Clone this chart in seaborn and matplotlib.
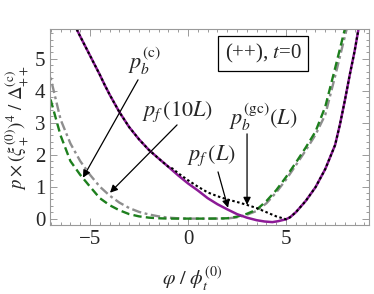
import seaborn as sns
import matplotlib
matplotlib.use("Agg")
from matplotlib import pyplot as plt
from matplotlib.ticker import MultipleLocator

# purple solid curve, p_f(L)
pf_L_x = [-5.9, -5.7, -5.5, -5.0, -4.5, -4.25, -4.0, -3.5, -3.0, -2.5, -2.0, -1.5,
          -1.0, -0.5, 0.0, 0.5, 1.0, 1.5, 2.0, 2.5, 3.0, 3.5, 3.9, 4.3, 4.6,
          5.0, 5.2, 5.5, 6.0, 6.5, 7.0, 7.5, 7.75, 8.0, 8.25, 8.5, 8.7, 8.9]
pf_L_y = [6.2, 5.95, 5.7, 5.1, 4.5, 4.18, 3.88, 3.33, 2.86, 2.48, 2.15, 1.88,
          1.62, 1.35, 1.1, 0.88, 0.64, 0.45, 0.29, 0.14, 0.03, -0.05, -0.09, -0.11, -0.08,
          -0.02, 0.04, 0.2, 0.55, 0.98, 1.55, 2.3, 2.95, 3.7, 4.5, 5.25, 5.95, 6.6]

# black dotted curve, p_b^(gc)(L)
pb_gc_x = [-5.9, -5.7, -5.5, -5.0, -4.5, -4.25, -4.0, -3.5, -3.0, -2.5, -2.0, -1.5,
           -1.0, -0.8, -0.5, 0.0, 0.5, 1.0, 1.5, 2.0, 2.5, 3.0, 3.5, 4.0, 4.5,
           5.0, 5.2, 5.5, 6.0, 6.5, 7.0, 7.5, 7.75, 8.0, 8.25, 8.5, 8.7, 8.9]
pb_gc_y = [6.2, 5.95, 5.7, 5.1, 4.5, 4.18, 3.88, 3.33, 2.86, 2.48, 2.15, 1.88,
           1.62, 1.57, 1.42, 1.2, 1.0, 0.82, 0.7, 0.6, 0.52, 0.43, 0.33, 0.2, 0.07,
           -0.02, 0.04, 0.2, 0.55, 0.98, 1.55, 2.3, 2.95, 3.7, 4.5, 5.25, 5.95, 6.6]

# green dashed curve, p_b^(c)
pb_c_x = [-7.2, -7.0, -6.5, -6.0, -5.5, -5.0, -4.5, -4.0, -3.5, -3.0, -2.5, -2.0,
          -1.5, -1.0, 0.0, 1.0, 1.5, 2.0, 2.5, 3.0, 3.5, 4.0, 4.5, 5.0, 5.5,
          6.0, 6.5, 7.0, 7.5, 8.0, 8.3]
pb_c_y = [4.1, 3.7, 2.6, 1.8, 1.37, 1.0, 0.64, 0.42, 0.26, 0.14, 0.07, 0.03,
          0.01, 0.0, 0.0, 0.0, 0.003, 0.01, 0.06, 0.15, 0.28, 0.55, 0.89, 1.3, 1.75,
          2.22, 2.72, 3.5, 4.7, 5.93, 6.7]

# gray dash-dot curve, p_f(10L)
pf_10L_x = [-7.2, -7.0, -6.5, -6.0, -5.5, -5.0, -4.5, -4.0, -3.5, -3.0, -2.5, -2.0,
            -1.5, -1.0, -0.5, 0.0, 1.0, 1.5, 2.0, 2.5, 3.0, 3.5, 4.0, 4.5, 5.0, 5.5,
            6.0, 6.5, 7.0, 7.5, 8.0, 8.4]
pf_10L_y = [4.8, 4.38, 3.1, 2.35, 1.8, 1.37, 1.0, 0.72, 0.5, 0.33, 0.21, 0.13,
            0.07, 0.03, 0.01, 0.0, 0.0, 0.0, 0.005, 0.04, 0.12, 0.24, 0.48, 0.82, 1.22, 1.67,
            2.13, 2.62, 3.25, 4.45, 5.7, 6.7]

sns.set_style("ticks")
plt.rcParams['font.family'] = ['Liberation Serif', 'DejaVu Serif']
plt.rcParams['mathtext.fontset'] = 'stix'

fig = plt.figure(figsize=(3.74, 2.94), dpi=100)
ax = fig.add_axes([50 / 374, 69 / 294, 319 / 374, 196 / 294])

purple = '#8c1a96'
green = '#1d7f1d'
gray = '#8e8e8e'

sns.lineplot(x=pf_10L_x, y=pf_10L_y, ax=ax, color=gray, lw=1.7, sort=False,
             linestyle=(0, (4, 1.5, 1.2, 1.5)))
sns.lineplot(x=pb_c_x, y=pb_c_y, ax=ax, color=green, lw=1.7, sort=False,
             linestyle=(0, (3.5, 1.8)))
sns.lineplot(x=pf_L_x, y=pf_L_y, ax=ax, color=purple, lw=1.8, sort=False)
sns.lineplot(x=pb_gc_x, y=pb_gc_y, ax=ax, color='black', lw=1.5, sort=False,
             linestyle=(0, (1.2, 1.2)))

ax.set_xlim(-7.04, 9.23)
ax.set_ylim(-0.2, 5.93)
ax.set_xticks([-5, 0, 5])
ax.set_yticks([0, 1, 2, 3, 4, 5])
ax.xaxis.set_minor_locator(MultipleLocator(0.5))
ax.yaxis.set_minor_locator(MultipleLocator(0.2))
ax.tick_params(which='both', direction='in', top=True, right=True,
               color='#9a9a9a', width=0.7, labelsize=15)
ax.tick_params(which='major', length=5, pad=3.5)
ax.tick_params(which='minor', length=2.5)
for sp in ax.spines.values():
    sp.set_color('#9a9a9a')
    sp.set_linewidth(0.8)

ax.set_xlabel(r'$\varphi\ /\ \phi_t^{(0)}$', fontsize=14.5)
ax.xaxis.set_label_coords(0.445, -0.2)
ax.set_ylabel(r'$p\times(\xi_+^{(0)})^4\ /\ \Delta_{++}^{(\mathrm{c})}$', fontsize=13.5)
ax.yaxis.set_label_coords(-0.058, 0.5)

arrow = dict(arrowstyle='-|>', color='black', lw=0.9, mutation_scale=11,
             shrinkA=0, shrinkB=0)
labels = [
    (r'$p_b^{(\mathrm{c})}$', (-2.24, 4.93), (-2.55, 4.34), (-5.36, 1.28)),
    (r'$p_f\,(10L)$', (-0.51, 3.34), (-0.56, 2.93), (-3.98, 0.81)),
    (r'$p_b^{(\mathrm{gc})}(L)$', (3.83, 3.18), (3.01, 2.65), (3.01, 0.43)),
    (r'$p_f\,(L)$', (1.22, 1.96), (1.53, 1.46), (2.04, 0.34)),
]
for txt, pos, tail, tip in labels:
    ax.text(pos[0], pos[1], txt, fontsize=16, ha='center', va='center')
    ax.annotate('', xy=tip, xytext=tail, arrowprops=arrow)

ax.text(3.83, 5.17, '(++), $t$=0', fontsize=15, ha='center', va='center',
        bbox=dict(boxstyle='square,pad=0.3', fc='white', ec='black', lw=0.9))

fig.savefig('out.png', dpi=100)
